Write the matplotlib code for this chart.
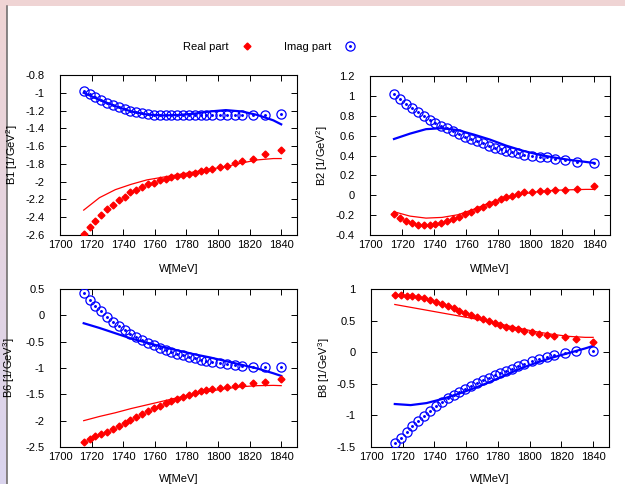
import matplotlib
matplotlib.use("Agg")
import matplotlib.pyplot as plt
import numpy as np

plt.rcParams['font.family'] = ['Liberation Sans', 'DejaVu Sans']
plt.rcParams['mathtext.fontset'] = 'custom'
plt.rcParams['mathtext.rm'] = 'Liberation Sans'

# W values of the data points [MeV]
W = [1715.0, 1718.7, 1722.4, 1726.1, 1729.8, 1733.5, 1737.2, 1740.9, 1744.6, 1748.3,
     1752.0, 1755.7, 1759.4, 1763.1, 1766.8, 1770.5, 1774.2, 1777.9, 1781.6, 1785.3,
     1789.0, 1792.7, 1796.5, 1801.3, 1806.0, 1810.7, 1815.5, 1822.0, 1829.5, 1840.0]

# W values of the model curves
W_curve = [1715, 1725, 1735, 1745, 1755, 1765, 1775, 1785, 1795, 1805, 1815, 1825, 1835, 1840]

# B1
b1_re = [-2.59, -2.51, -2.44, -2.37, -2.31, -2.26, -2.21, -2.17, -2.12, -2.09,
         -2.06, -2.03, -2.01, -1.985, -1.965, -1.95, -1.935, -1.925, -1.91, -1.90,
         -1.885, -1.87, -1.855, -1.84, -1.82, -1.79, -1.77, -1.74, -1.69, -1.645]
b1_im = [-0.98, -1.015, -1.045, -1.08, -1.11, -1.135, -1.16, -1.185, -1.20, -1.22,
         -1.23, -1.24, -1.25, -1.25, -1.25, -1.25, -1.25, -1.25, -1.25, -1.25,
         -1.25, -1.25, -1.25, -1.25, -1.25, -1.25, -1.25, -1.25, -1.245, -1.24]
b1_re_fit = [-2.32, -2.18, -2.09, -2.03, -1.98, -1.95, -1.92, -1.89, -1.86, -1.83, -1.79, -1.755, -1.74, -1.74]
b1_im_fit = [-1.00, -1.08, -1.15, -1.21, -1.245, -1.255, -1.25, -1.235, -1.21, -1.195, -1.21, -1.25, -1.31, -1.355]

# B2
b2_re = [-0.186, -0.23, -0.263, -0.283, -0.297, -0.303, -0.30, -0.293, -0.28, -0.263,
         -0.24, -0.216, -0.193, -0.166, -0.14, -0.115, -0.089, -0.065, -0.042, -0.02,
         -0.005, 0.009, 0.03, 0.036, 0.042, 0.046, 0.05, 0.055, 0.062, 0.093]
b2_im = [1.016, 0.968, 0.92, 0.874, 0.838, 0.80, 0.757, 0.723, 0.70, 0.673,
         0.643, 0.616, 0.59, 0.566, 0.546, 0.522, 0.50, 0.48, 0.465, 0.45,
         0.44, 0.425, 0.41, 0.40, 0.388, 0.38, 0.368, 0.354, 0.338, 0.324]
b2_re_fit = [-0.166, -0.21, -0.23, -0.223, -0.196, -0.14, -0.075, -0.025, 0.012, 0.036, 0.05, 0.055, 0.059, 0.059]
b2_im_fit = [0.566, 0.62, 0.665, 0.675, 0.655, 0.61, 0.56, 0.50, 0.45, 0.41, 0.38, 0.355, 0.335, 0.325]

# B6
b6_re = [-2.40, -2.354, -2.30, -2.26, -2.21, -2.15, -2.10, -2.05, -1.994, -1.937,
         -1.88, -1.823, -1.766, -1.715, -1.665, -1.62, -1.58, -1.544, -1.506, -1.475,
         -1.443, -1.418, -1.39, -1.373, -1.354, -1.342, -1.33, -1.285, -1.26, -1.21]
b6_im = [0.418, 0.285, 0.177, 0.076, -0.03, -0.127, -0.21, -0.285, -0.354, -0.418,
         -0.468, -0.52, -0.57, -0.614, -0.652, -0.69, -0.728, -0.76, -0.79, -0.816,
         -0.84, -0.867, -0.89, -0.91, -0.93, -0.95, -0.96, -0.98, -0.987, -0.99]
b6_re_fit = [-2.00, -1.92, -1.85, -1.77, -1.70, -1.63, -1.56, -1.50, -1.44, -1.39, -1.355, -1.335, -1.33, -1.335]
b6_im_fit = [-0.15, -0.24, -0.34, -0.44, -0.52, -0.60, -0.67, -0.74, -0.80, -0.87, -0.94, -1.01, -1.10, -1.15]

# B8
b8_re = [0.90, 0.90, 0.895, 0.89, 0.874, 0.853, 0.83, 0.80, 0.768, 0.73,
         0.695, 0.658, 0.62, 0.584, 0.553, 0.52, 0.49, 0.458, 0.43, 0.405,
         0.384, 0.363, 0.337, 0.316, 0.295, 0.28, 0.263, 0.237, 0.21, 0.168]
b8_im = [-1.437, -1.353, -1.258, -1.168, -1.084, -1.005, -0.926, -0.858, -0.795, -0.73,
         -0.68, -0.626, -0.58, -0.53, -0.49, -0.447, -0.405, -0.363, -0.326, -0.29,
         -0.258, -0.226, -0.184, -0.147, -0.11, -0.079, -0.047, -0.01, 0.016, 0.016]
b8_re_fit = [0.755, 0.71, 0.665, 0.62, 0.575, 0.53, 0.48, 0.425, 0.37, 0.32, 0.28, 0.25, 0.235, 0.235]
b8_im_fit = [-0.82, -0.837, -0.805, -0.74, -0.66, -0.57, -0.47, -0.36, -0.25, -0.16, -0.08, -0.01, 0.06, 0.10]

x_ticks = [1700, 1720, 1740, 1760, 1780, 1800, 1820, 1840]

RED = '#ff0000'
BLUE = '#0000ff'
FS = 8
RE_MS = 3.5   # red diamonds
IM_MS = 6.6   # blue open circles


def draw_panel(ax, re, im, re_fit, im_fit, ylabel, ylim, yticks, ylabel_x, xlabel_y):
    # data points
    ax.plot(W, re, linestyle='none', marker='D', ms=RE_MS, color=RED, mec=RED, zorder=3)
    ax.plot(W, im, linestyle='none', marker='o', ms=IM_MS, mfc='none', mec=BLUE, mew=0.9, zorder=3)
    ax.plot(W, im, linestyle='none', marker='o', ms=1.1, color=BLUE, zorder=3)
    # model curves
    ax.plot(W_curve, re_fit, color=RED, lw=0.9, zorder=2)
    ax.plot(W_curve, im_fit, color=BLUE, lw=1.6, zorder=2)

    ax.set_xlim(1700, 1850)
    ax.set_ylim(*ylim)
    ax.set_xticks(x_ticks)
    ax.set_yticks(yticks)
    ax.set_yticklabels(['%g' % v for v in yticks])
    ax.tick_params(direction='in', length=4.5, width=0.7, top=True, right=True,
                   labelsize=FS, colors='black')
    ax.tick_params(axis='y', pad=11)
    ax.tick_params(axis='x', pad=3.5)
    for sp in ax.spines.values():
        sp.set_linewidth(0.8)
    ax.set_xlabel('W[MeV]', fontsize=FS)
    ax.set_ylabel(ylabel, fontsize=FS)
    ax.yaxis.set_label_coords(ylabel_x, 0.5)
    ax.xaxis.set_label_coords(0.5, xlabel_y)


fig = plt.figure(figsize=(6.25, 4.84), dpi=100)
fig.patch.set_facecolor('#efd4d4')

# slide background: white page with a grey left edge and a gradient strip
bg = fig.add_axes([7 / 625, 0, 1 - 7 / 625, 1 - 6 / 484])
bg.set_facecolor('white')
bg.set_xticks([])
bg.set_yticks([])
for name, sp in bg.spines.items():
    sp.set_visible(name == 'left')
bg.spines['left'].set_color('#666666')
bg.spines['left'].set_linewidth(1.1)

strip = fig.add_axes([0, 0, 6 / 625, 1 - 6 / 484])
grad = np.linspace(0, 1, 256).reshape(-1, 1)
top_c = np.array([239, 212, 212]) / 255
bot_c = np.array([218, 212, 238]) / 255
strip.imshow(top_c + (bot_c - top_c) * grad[:, :, None], aspect='auto')
strip.axis('off')

ax1 = fig.add_axes([60 / 625, 1 - 235 / 484, 237 / 625, 160 / 484])
ax2 = fig.add_axes([370 / 625, 1 - 235 / 484, 240 / 625, 159 / 484])
ax3 = fig.add_axes([60 / 625, 1 - 447 / 484, 237 / 625, 158 / 484])
ax4 = fig.add_axes([371 / 625, 1 - 447 / 484, 238 / 625, 158 / 484])

draw_panel(ax1, b1_re, b1_im, b1_re_fit, b1_im_fit, 'B1 [1/GeV$^2$]',
           (-2.6, -0.8), [-2.6, -2.4, -2.2, -2.0, -1.8, -1.6, -1.4, -1.2, -1.0, -0.8], -0.17, -0.18)
draw_panel(ax2, b2_re, b2_im, b2_re_fit, b2_im_fit, 'B2 [1/GeV$^2$]',
           (-0.4, 1.2), [-0.4, -0.2, 0, 0.2, 0.4, 0.6, 0.8, 1.0, 1.2], -0.167, -0.18)
draw_panel(ax3, b6_re, b6_im, b6_re_fit, b6_im_fit, 'B6 [1/GeV$^3$]',
           (-2.5, 0.5), [-2.5, -2.0, -1.5, -1.0, -0.5, 0, 0.5], -0.18, -0.17)
draw_panel(ax4, b8_re, b8_im, b8_re_fit, b8_im_fit, 'B8 [1/GeV$^3$]',
           (-1.5, 1.0), [-1.5, -1.0, -0.5, 0, 0.5, 1.0], -0.164, -0.17)

# legend across the top
h_re, = ax1.plot([], [], linestyle='none', marker='D', ms=RE_MS, color=RED)
h_im1, = ax1.plot([], [], linestyle='none', marker='o', ms=IM_MS, mfc='none', mec=BLUE, mew=0.9)
h_im2, = ax1.plot([], [], linestyle='none', marker='o', ms=1.1, color=BLUE)
fig.legend([h_re, (h_im1, h_im2)], ['Real part', 'Imag part'], ncol=2, markerfirst=False,
           frameon=False, loc='center', bbox_to_anchor=(270 / 625, 1 - 47 / 484),
           fontsize=FS, handlelength=1.4, columnspacing=2.6, handletextpad=1.0)

fig.savefig('out.png', dpi=100, facecolor=fig.get_facecolor())
